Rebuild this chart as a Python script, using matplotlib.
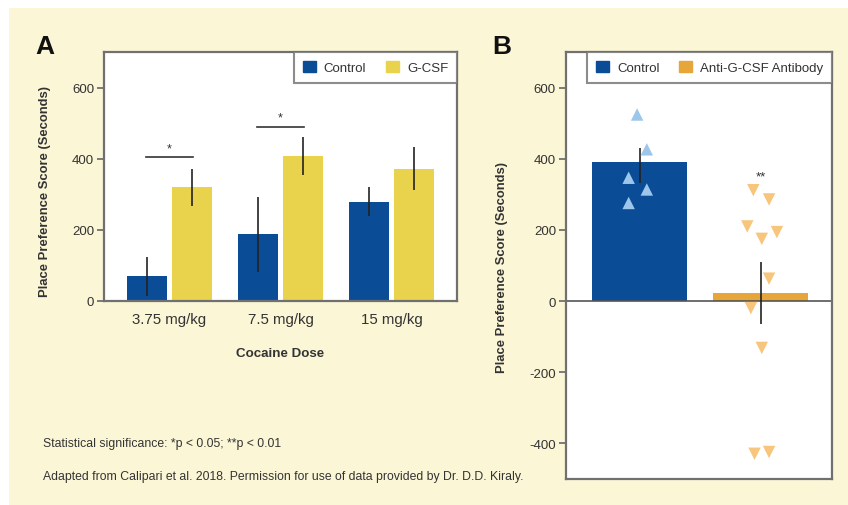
import matplotlib
matplotlib.use("Agg")
import matplotlib.pyplot as plt
from matplotlib.patches import Rectangle, Patch
import numpy as np

plt.rcParams['font.family'] = ['Liberation Sans', 'DejaVu Sans']
plt.rcParams['axes.unicode_minus'] = False

# ---- data ----
doses = ["3.75 mg/kg", "7.5 mg/kg", "15 mg/kg"]
a_control = [70, 188, 280]
a_control_err = [55, 105, 40]
a_gcsf = [320, 408, 373]
a_gcsf_err = [53, 54, 60]

b_groups = ["Control", "Anti-G-CSF Antibody"]
b_means = [390, 22]
b_err_low = [57, 88]
b_err_high = [41, 88]
b_control_pts = [525, 427, 347, 314, 276]
b_control_jit = [-0.02, 0.06, -0.09, 0.06, -0.09]
b_anti_pts = [312, 286, 210, 194, 175, 63, -20, -132, -430, -425]
b_anti_jit = [-0.06, 0.07, -0.11, 0.135, 0.01, 0.07, -0.08, 0.01, -0.05, 0.07]

# ---- colors ----
BG = "#FBF6D6"
BLUE = "#0B4C97"
YELLOW = "#EAD34C"
ORANGE = "#E6A63A"
LBLUE = "#9CC6EA"
LORANGE = "#F7C57C"
SPINE = "#707070"
TXT = "#333333"

fig = plt.figure(figsize=(8.48, 5.06), dpi=100)
fig.patch.set_facecolor("white")
fig.patches.append(Rectangle((9/848, 0), 1, 1 - 9/506, transform=fig.transFigure,
                             facecolor=BG, edgecolor="none", zorder=-10))

def style_ax(ax):
    ax.set_facecolor("white")
    for s in ax.spines.values():
        s.set_color(SPINE)
        s.set_linewidth(1.6)
    ax.tick_params(axis="y", length=5, width=1.3, color=SPINE, labelsize=9.5,
                   labelcolor=TXT, pad=2)

# ---- Panel A ----
axA = fig.add_axes([104/848, 1 - 302/506, 353/848, 249/506])
style_ax(axA)
x = np.arange(len(doses))
w = 0.36
off = 0.203
axA.bar(x - off, a_control, w, color=BLUE, zorder=2)
axA.bar(x + off, a_gcsf, w, color=YELLOW, zorder=2)
axA.errorbar(x - off, a_control, yerr=a_control_err, fmt="none", ecolor="#222222",
             elinewidth=1.2, capsize=0, zorder=3)
axA.errorbar(x + off, a_gcsf, yerr=a_gcsf_err, fmt="none", ecolor="#222222",
             elinewidth=1.2, capsize=0, zorder=3)
axA.set_xlim(-0.59, 2.59)
axA.set_ylim(0, 701)
axA.set_yticks([0, 200, 400, 600])
axA.set_xticks(x)
axA.set_xticklabels(doses)
axA.tick_params(axis="x", length=0, labelsize=10.8, labelcolor=TXT, pad=8)
axA.set_xlabel("Cocaine Dose", fontsize=9.6, fontweight="bold", color=TXT, labelpad=15)
axA.set_ylabel("Place Preference Score (Seconds)", fontsize=9.4, fontweight="bold",
               color=TXT)
axA.yaxis.set_label_coords(-0.150, 0.444)
# significance
for i, yv in [(0, 406), (1, 491)]:
    axA.plot([x[i] - 0.21, x[i] + 0.21], [yv, yv], color="#333333", lw=1.2, zorder=3)
    axA.text(x[i], yv + 8, "*", ha="center", va="bottom", fontsize=9, color=TXT)
legA = axA.legend(handles=[Patch(color=BLUE, label="Control"), Patch(color=YELLOW, label="G-CSF")],
                  loc="upper right", ncol=2, frameon=True, fancybox=False, borderaxespad=0,
                  fontsize=9.5, handlelength=1.0, handleheight=1.0, handletextpad=0.6,
                  columnspacing=1.5, borderpad=0.65)
legA.get_frame().set_edgecolor(SPINE)
legA.get_frame().set_linewidth(1.5)
for t in legA.get_texts():
    t.set_color(TXT)

# ---- Panel B ----
axB = fig.add_axes([565.7/848, 1 - 480/506, 266.3/848, 427/506])
style_ax(axB)
xb = np.arange(len(b_groups))
axB.bar(xb[0], b_means[0], 0.78, color=BLUE, zorder=2)
axB.bar(xb[1], b_means[1], 0.78, color=ORANGE, zorder=2)
axB.axhline(0, color="#555555", lw=1.2, zorder=2.5)
axB.scatter(xb[0] + np.array(b_control_jit), b_control_pts, marker="^", s=80,
            color=LBLUE, edgecolor="none", zorder=4)
axB.scatter(xb[1] + np.array(b_anti_jit), b_anti_pts, marker="v", s=80,
            color=LORANGE, edgecolor="none", zorder=4)
axB.errorbar(xb, b_means, yerr=[b_err_low, b_err_high], fmt="none", ecolor="#222222",
             elinewidth=1.2, capsize=0, zorder=3)
axB.text(xb[1], 335, "**", ha="center", va="bottom", fontsize=9.5, color=TXT)
axB.set_xlim(-0.61, 1.59)
axB.set_ylim(-501, 701)
axB.set_yticks([-400, -200, 0, 200, 400, 600])
axB.set_xticks([])
axB.set_ylabel("Place Preference Score (Seconds)", fontsize=9.4, fontweight="bold",
               color=TXT)
axB.yaxis.set_label_coords(-0.216, 0.497)
legB = axB.legend(handles=[Patch(color=BLUE, label="Control"),
                           Patch(color=ORANGE, label="Anti-G-CSF Antibody")],
                  loc="upper right", ncol=2, frameon=True, fancybox=False, borderaxespad=0,
                  fontsize=9.5, handlelength=1.0, handleheight=1.0, handletextpad=0.6,
                  columnspacing=1.5, borderpad=0.65)
legB.get_frame().set_edgecolor(SPINE)
legB.get_frame().set_linewidth(1.5)
for t in legB.get_texts():
    t.set_color(TXT)

# ---- Panel letters and notes ----
fig.text(35/848, 1 - 47/506, "A", fontsize=19, fontweight="bold", color="#111111",
         ha="left", va="center")
fig.text(492/848, 1 - 47/506, "B", fontsize=19, fontweight="bold", color="#111111",
         ha="left", va="center")
fig.text(43/848, 1 - 444/506, "Statistical significance: *p < 0.05; **p < 0.01",
         fontsize=8.8, color=TXT, ha="left", va="center")
fig.text(43/848, 1 - 477/506,
         "Adapted from Calipari et al. 2018. Permission for use of data provided by Dr. D.D. Kiraly.",
         fontsize=8.8, color=TXT, ha="left", va="center")

fig.savefig("out.png", dpi=100, facecolor=fig.get_facecolor())
